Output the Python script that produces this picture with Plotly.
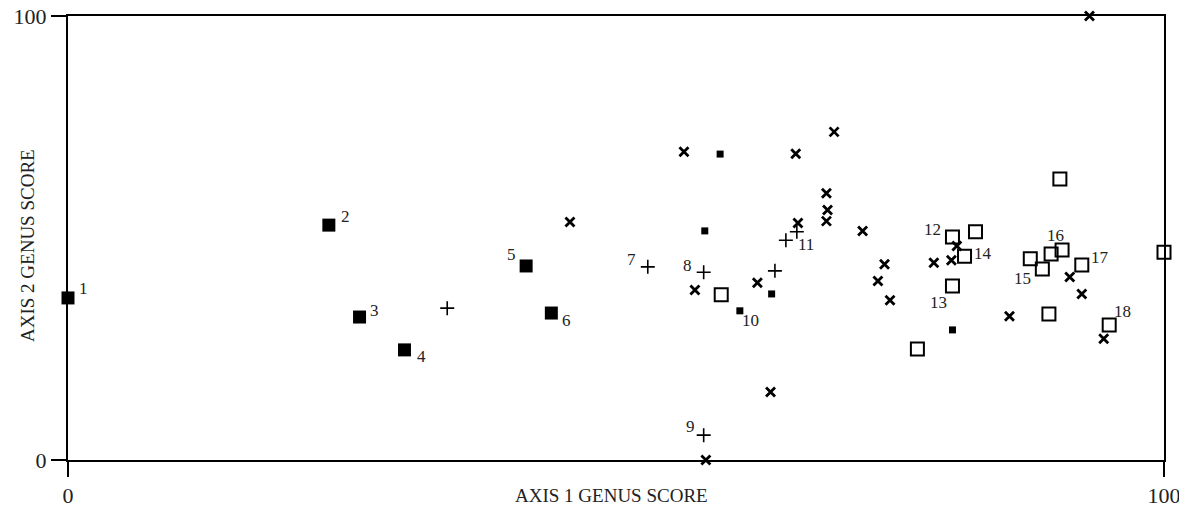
import plotly.graph_objects as go

# Series A: large filled squares (labeled 1-6)
a_x = [0.0, 23.8, 26.6, 30.7, 41.8, 44.1]
a_y = [36.5, 52.9, 32.2, 24.8, 43.7, 33.1]
a_lab = ["1", "2", "3", "4", "5", "6"]

# Series B: plus markers
b_x = [34.6, 52.9, 58.0, 58.0, 64.5, 65.5, 66.5]
b_y = [34.2, 43.5, 42.3, 5.6, 42.6, 49.5, 51.4]
b_lab = ["", "7", "8", "9", "", "", "11"]

# Series C: x markers
c_x = [45.8, 56.2, 57.2, 58.2, 62.9, 64.1, 66.4, 66.6, 69.2, 69.3, 69.2, 69.9,
       72.5, 74.5, 73.9, 75.0, 79.0, 80.6, 81.1, 85.9, 91.4, 92.5, 94.5, 93.2]
c_y = [53.6, 69.4, 38.3, 0.0, 39.9, 15.3, 69.0, 53.4, 60.1, 56.3, 53.8, 73.9,
       51.6, 44.1, 40.3, 36.0, 44.4, 45.0, 48.2, 32.4, 41.2, 37.4, 27.3, 100.0]

# Series D: small filled squares
d_x = [59.5, 58.1, 64.2, 61.3, 80.7]
d_y = [68.9, 51.6, 37.4, 33.6, 29.3]
d_lab = ["", "", "", "10", ""]

# Series E: open squares
e_x = [59.6, 77.5, 80.7, 82.8, 81.8, 80.7, 87.8, 88.9, 89.7, 90.7, 90.5, 92.5, 89.5, 95.0, 100.0]
e_y = [37.2, 25.0, 50.2, 51.4, 45.9, 39.2, 45.3, 43.0, 46.4, 47.3, 63.3, 43.9, 32.9, 30.4, 46.8]
e_lab = ["", "", "12", "", "14", "13", "", "15", "", "16", "", "17", "", "18", ""]

x_ticks = [0, 100]
y_ticks = [0, 100]
x_title = "AXIS 1 GENUS SCORE"
y_title = "AXIS 2 GENUS SCORE"

FONT = "Liberation Serif"

# label offsets (pixels) keyed by label text
offsets = {
    "1": (15, 9), "2": (17, 9), "3": (15, 7), "4": (17, -7), "5": (-15, 11), "6": (15, -7),
    "7": (-16, 7), "8": (-16, 7), "9": (-13, 9), "10": (11, -10), "11": (9, -13),
    "12": (-20, 8), "13": (-14, -17), "14": (18, 3), "15": (-20, -9), "16": (-7, 14),
    "17": (18, 8), "18": (13, 14),
}

fig = go.Figure()
fig.add_trace(go.Scatter(x=a_x, y=a_y, mode="markers", cliponaxis=False,
                         marker=dict(symbol="square", size=13, color="black")))
fig.add_trace(go.Scatter(x=b_x, y=b_y, mode="markers", cliponaxis=False,
                         marker=dict(symbol="cross-thin", size=10, color="black",
                                     line=dict(width=1.6, color="black"))))
fig.add_trace(go.Scatter(x=c_x, y=c_y, mode="markers", cliponaxis=False,
                         marker=dict(symbol="x-thin", size=9, color="black",
                                     line=dict(width=2.8, color="black"))))
fig.add_trace(go.Scatter(x=d_x, y=d_y, mode="markers", cliponaxis=False,
                         marker=dict(symbol="square", size=7, color="black")))
fig.add_trace(go.Scatter(x=e_x, y=e_y, mode="markers", cliponaxis=False,
                         marker=dict(symbol="square-open", size=13, color="black",
                                     line=dict(width=2, color="black"))))

for xs, ys, labs in [(a_x, a_y, a_lab), (b_x, b_y, b_lab), (d_x, d_y, d_lab), (e_x, e_y, e_lab)]:
    for x, y, t in zip(xs, ys, labs):
        if not t:
            continue
        dx, dy = offsets[t]
        fig.add_annotation(x=x, y=y, text=t, showarrow=False, xshift=dx, yshift=dy,
                           font=dict(family=FONT, size=17, color="#222"))

axis_common = dict(range=[0, 100], showgrid=False, zeroline=False, showline=True,
                   linecolor="black", linewidth=2, mirror=True, ticks="outside",
                   ticklen=15, tickwidth=2, tickcolor="black", automargin=False,
                   ticklabeloverflow="allow",
                   tickfont=dict(family=FONT, size=22, color="#222"))
fig.update_xaxes(tickvals=x_ticks, ticktext=[str(v) for v in x_ticks], **axis_common)
fig.update_yaxes(tickvals=y_ticks, ticktext=[str(v) for v in y_ticks], **axis_common)

# page body has an 8px default margin, so the figure is drawn offset by 8px
OFF = 8
W, H = 1187 - OFF, 514 - OFF
L, R, T, B = 68 - OFF, 23, 16 - OFF, 54
fig.update_layout(width=W, height=H, showlegend=False,
                  margin=dict(l=L, r=R, t=T, b=B, autoexpand=False),
                  paper_bgcolor="white", plot_bgcolor="white")

# axis titles positioned from window pixel positions
pw, ph = W - L - R, H - T - B
def px_to_paper(px, py):
    return (px - OFF - L) / pw, (H - B - (py - OFF)) / ph

xt_x, xt_y = px_to_paper(611, 495)
yt_x, yt_y = px_to_paper(27, 246)
fig.add_annotation(x=xt_x, y=xt_y, xref="paper", yref="paper", text=x_title, showarrow=False,
                   yanchor="middle", font=dict(family=FONT, size=19, color="#222"))
fig.add_annotation(x=yt_x, y=yt_y, xref="paper", yref="paper", text=y_title, showarrow=False,
                   textangle=-90, xanchor="center", yanchor="middle",
                   font=dict(family=FONT, size=19, color="#222"))

fig.write_html("out.html")
